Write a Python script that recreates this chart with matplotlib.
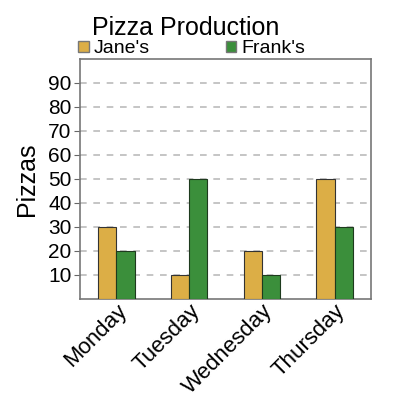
import numpy as np
import matplotlib
matplotlib.use("Agg")
import matplotlib.pyplot as plt
from matplotlib.patches import Patch

days = ["Monday", "Tuesday", "Wednesday", "Thursday"]
jane = [30, 10, 20, 50]
frank = [20, 50, 10, 30]
y_ticks = [10, 20, 30, 40, 50, 60, 70, 80, 90]

plt.rcParams['font.family'] = ['Liberation Sans', 'DejaVu Sans']

fig = plt.figure(figsize=(4, 4), dpi=100)
ax = fig.add_axes([0.2, 0.2525, 0.7275, 0.6])

x = np.arange(len(days))
w = 0.25
c_jane = '#dcae46'
c_frank = '#3b8f3b'
ax.bar(x - w/2, jane, w, color=c_jane, edgecolor='#333333', linewidth=0.8, zorder=3)
ax.bar(x + w/2, frank, w, color=c_frank, edgecolor='#1e3a1e', linewidth=0.8, zorder=3)

ax.set_xlim(-0.5, 3.5)
ax.set_ylim(0, 100)
ax.set_yticks(y_ticks)
ax.tick_params(axis='y', labelsize=15, length=4, color='#666666', pad=2)
ax.set_xticks(x)
ax.set_xticklabels(days, rotation=45, ha='right', rotation_mode='anchor', fontsize=16)
ax.tick_params(axis='x', length=0, pad=1)
ax.grid(axis='y', color='#bbbbbb', linestyle=(0, (4, 4)), linewidth=1.2, zorder=0)
for s in ax.spines.values():
    s.set_color('#777777')
    s.set_linewidth(1.2)

ax.set_ylabel('Pizzas', fontsize=18, labelpad=7)

fig.text(0.465, 0.93, 'Pizza Production', ha='center', va='center', fontsize=18)

handles = [Patch(facecolor=c_jane, edgecolor='#777777', label="Jane's"),
           Patch(facecolor=c_frank, edgecolor='#777777', label="Frank's")]
fig.legend(handles=handles, loc='center left', bbox_to_anchor=(0.195, 0.878), ncol=2,
           frameon=False, fontsize=14, handlelength=0.55, handleheight=0.55,
           handletextpad=0.25, columnspacing=3.9, borderpad=0, borderaxespad=0)

fig.savefig('out.png', dpi=100)
